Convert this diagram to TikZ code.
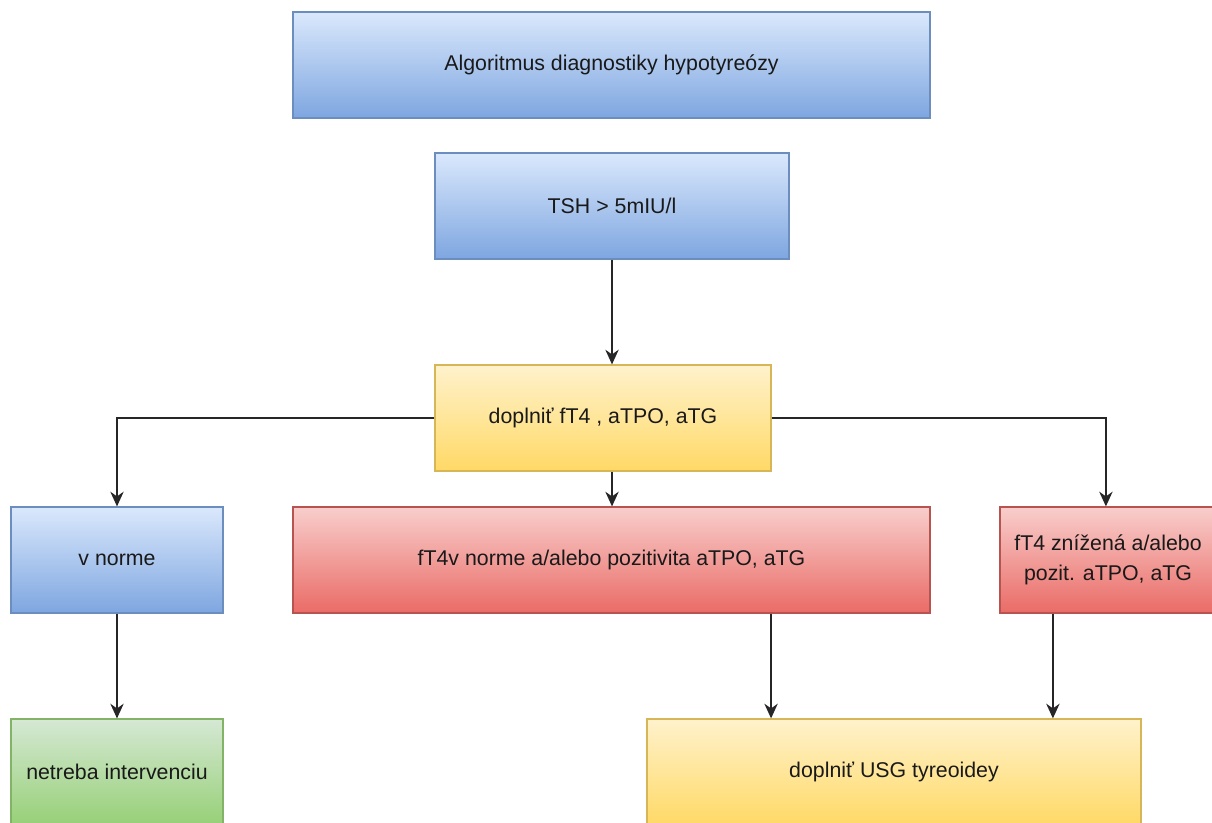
\documentclass[tikz,border=0pt]{standalone}
\usepackage{fontspec}
\setmainfont{Liberation Sans}
\usetikzlibrary{arrows.meta,calc}

\definecolor{bluetop}{HTML}{DAE8FC}
\definecolor{bluebot}{HTML}{7EA6E0}
\definecolor{bluestroke}{HTML}{6C8EBF}
\definecolor{yeltop}{HTML}{FFF2CC}
\definecolor{yelbot}{HTML}{FFD966}
\definecolor{yelstroke}{HTML}{D6B656}
\definecolor{redtop}{HTML}{F8CECC}
\definecolor{redbot}{HTML}{EA6B66}
\definecolor{redstroke}{HTML}{B85450}
\definecolor{greentop}{HTML}{D5E8D4}
\definecolor{greenbot}{HTML}{97D077}
\definecolor{greenstroke}{HTML}{82B366}

\tikzset{
  box/.style={rectangle, line width=0.9pt, minimum height=79.5pt,
    inner sep=2pt, align=center, font=\fontsize{16}{22}\selectfont, text=black!90},
  bluebox/.style={box, draw=bluestroke, top color=bluetop, bottom color=bluebot},
  yelbox/.style={box, draw=yelstroke, top color=yeltop, bottom color=yelbot},
  redbox/.style={box, draw=redstroke, top color=redtop, bottom color=redbot},
  greenbox/.style={box, draw=greenstroke, top color=greentop, bottom color=greenbot},
  arr/.style={draw=black!85, line width=1.2pt,
    -{Stealth[length=11pt, width=10pt, inset=3.5pt]}},
}

\begin{document}
\begin{tikzpicture}[x=0.75pt, y=-0.75pt]
\useasboundingbox (0,0) rectangle (1212,823);
\clip (0,0) rectangle (1212,823);
\fill[white] (0,0) rectangle (1212,823);

% boxes (positions in pixel units, y pointing down)
\node[bluebox, minimum width=477.75pt] (title) at (611.5,65) {Algoritmus diagnostiky hypotyreózy};
\node[bluebox, minimum width=265.5pt] (tsh) at (612,206) {TSH > 5mIU/l};
\node[yelbox, minimum width=252pt] (dop) at (603,418) {doplniť fT4 , aTPO, aTG};
\node[bluebox, minimum width=159pt] (vn) at (117,560) {v norme};
\node[redbox, minimum width=477.75pt] (fa) at (611.5,560) {fT4v norme a/alebo pozitivita aTPO, aTG};
\node[redbox, minimum width=162pt] (fz) at (1108,560) {fT4 znížená a/alebo\\pozit. aTPO, aTG};
\node[greenbox, minimum width=159pt] (nt) at (117,772) {netreba intervenciu};
\node[yelbox, minimum width=370.5pt] (usg) at (894,772) {doplniť USG tyreoidey};

% connectors
\coordinate (mid) at (tsh.south);
\draw[arr] (mid) -- (mid |- dop.north);
\draw[arr] (mid |- dop.south) -- (mid |- fa.north);
\draw[arr] (dop.west) -| (vn.north);
\coordinate (fztop) at ($(fz.north west)+(106.5,0)$);
\draw[arr] (dop.east) -| (fztop);
\draw[arr] (vn) -- (nt);
\coordinate (fa3) at ($(fa.south west)!0.75!(fa.south east)$);
\draw[arr] (fa3) -- (fa3 |- usg.north);
\coordinate (fz1) at ($(fz.south west)+(53.5,0)$);
\draw[arr] (fz1) -- (fz1 |- usg.north);
\end{tikzpicture}
\end{document}
